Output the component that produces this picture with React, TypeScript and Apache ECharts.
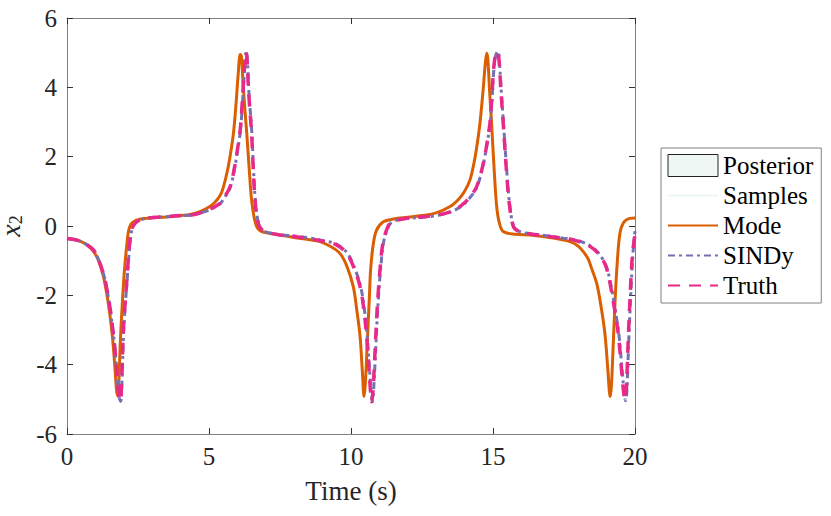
import React, { useEffect, useRef } from "react";
import * as echarts from "echarts";

const FONT = "'Liberation Serif', 'DejaVu Serif', serif";

const xTicks = [0, 5, 10, 15, 20];
const yTicks = [-6, -4, -2, 0, 2, 4, 6];

const seriesNames = ["Posterior", "Samples", "Mode", "SINDy", "Truth"];

const modeData: [number, number][] = [
  [0, -0.36], [0.25, -0.39], [0.5, -0.45], [0.72, -0.56], [0.93, -0.73], [1.1, -0.98], [1.28, -1.45], [1.4, -1.95],
  [1.5, -2.5], [1.6, -3.2], [1.68, -4.0], [1.74, -4.7], [1.78, -4.9], [1.82, -4.6],
  [1.88, -3.3], [1.95, -2.2], [2.02, -1.3], [2.1, -0.6], [2.18, -0.1], [2.3, 0.1],
  [2.6, 0.2], [3.5, 0.26], [4.0, 0.3], [4.33, 0.33], [4.7, 0.42], [5.0, 0.55],
  [5.2, 0.68], [5.39, 0.88], [5.5, 1.1], [5.65, 1.6], [5.76, 2.1], [5.86, 2.67],
  [5.95, 3.5], [6.03, 4.4], [6.1, 4.95], [6.14, 4.9], [6.2, 4.1], [6.27, 3.3],
  [6.33, 2.67], [6.42, 1.6], [6.5, 0.75], [6.6, 0.2], [6.7, -0.05], [6.85, -0.16],
  [7.5, -0.26], [8.0, -0.33], [8.5, -0.39], [8.91, -0.45], [9.3, -0.6], [9.61, -0.79],
  [9.85, -1.15], [10.08, -1.75], [10.2, -2.4], [10.32, -3.19], [10.4, -4.2], [10.46, -4.92],
  [10.5, -4.6], [10.55, -3.8], [10.61, -2.71], [10.65, -2.0], [10.69, -1.27], [10.78, -0.55],
  [10.9, -0.12], [11.14, 0.12], [11.5, 0.2], [12.0, 0.25], [12.5, 0.3], [13.0, 0.38],
  [13.49, 0.56], [13.8, 0.78], [14.0, 1.0], [14.19, 1.33], [14.35, 1.9], [14.45, 2.4],
  [14.54, 2.96], [14.65, 3.9], [14.73, 4.7], [14.78, 4.98], [14.82, 4.8], [14.88, 3.9],
  [14.95, 2.96], [15.05, 1.5], [15.13, 0.56], [15.22, 0.1], [15.36, -0.16], [15.8, -0.24],
  [16.3, -0.26], [17.0, -0.33], [17.71, -0.45], [18.0, -0.58], [18.18, -0.74], [18.35, -0.95],
  [18.47, -1.22], [18.65, -1.65], [18.8, -2.3], [18.94, -3.1], [19.04, -4.1], [19.1, -4.8],
  [19.13, -4.92], [19.17, -4.6], [19.22, -3.7], [19.3, -2.13], [19.38, -1.0], [19.47, -0.21],
  [19.6, 0.1], [19.82, 0.22], [20.0, 0.23],
];

const sindyData: [number, number][] = [
  [0, -0.36], [0.25, -0.39], [0.5, -0.45], [0.72, -0.55], [0.93, -0.7], [1.1, -0.95], [1.28, -1.37], [1.4, -1.8],
  [1.51, -2.33], [1.6, -2.9], [1.69, -3.55], [1.77, -4.35], [1.84, -4.95], [1.89, -5.06],
  [1.93, -4.6], [1.99, -3.1], [2.05, -2.3], [2.11, -1.65], [2.17, -0.95], [2.23, -0.4],
  [2.31, -0.05], [2.46, 0.12], [2.8, 0.22], [3.5, 0.27], [4.0, 0.3], [4.33, 0.31],
  [4.7, 0.38], [5.0, 0.46], [5.39, 0.64], [5.5, 0.76], [5.74, 1.1], [5.9, 1.65],
  [6.0, 2.15], [6.1, 2.7], [6.16, 3.3], [6.22, 4.1], [6.28, 4.8], [6.31, 5.04],
  [6.35, 4.8], [6.41, 3.8], [6.51, 2.67], [6.57, 1.6], [6.63, 0.75], [6.71, 0.2],
  [6.81, -0.05], [6.98, -0.16], [7.5, -0.25], [8.0, -0.29], [8.5, -0.34], [9.0, -0.42],
  [9.5, -0.53], [9.86, -0.77], [10.12, -1.2], [10.34, -1.75], [10.47, -2.4], [10.57, -3.19],
  [10.65, -4.1], [10.71, -4.8], [10.75, -5.07], [10.79, -4.8], [10.85, -3.9], [10.92, -2.71],
  [10.98, -1.9], [11.04, -1.27], [11.14, -0.5], [11.28, -0.1], [11.42, 0.1], [11.8, 0.2],
  [12.5, 0.25], [13.0, 0.3], [13.49, 0.4], [13.9, 0.58], [14.2, 0.83], [14.42, 1.1],
  [14.6, 1.57], [14.75, 2.17], [14.9, 2.96], [14.97, 3.7], [15.02, 4.4], [15.09, 4.9],
  [15.17, 5.04], [15.22, 4.8], [15.29, 3.9], [15.37, 2.96], [15.49, 1.52], [15.59, 0.6],
  [15.73, -0.02], [15.91, -0.15], [16.2, -0.21], [16.6, -0.25], [17.0, -0.29], [17.48, -0.35],
  [17.83, -0.39], [18.2, -0.48], [18.4, -0.56], [18.65, -0.72], [18.86, -0.95], [19.01, -1.22],
  [19.14, -1.65], [19.3, -2.4], [19.43, -3.1], [19.54, -4.1], [19.62, -4.8], [19.67, -5.04],
  [19.71, -4.8], [19.75, -4.0], [19.79, -3.1], [19.85, -2.0], [19.9, -1.17], [19.95, -0.55],
  [20.0, -0.15],
];

const truthData: [number, number][] = [
  [0, -0.36], [0.25, -0.39], [0.5, -0.45], [0.72, -0.55], [0.93, -0.69], [1.1, -0.95], [1.28, -1.37], [1.4, -1.8],
  [1.51, -2.33], [1.6, -2.9], [1.69, -3.58], [1.77, -4.4], [1.84, -5.0], [1.88, -5.05],
  [1.92, -4.6], [1.98, -3.1], [2.04, -2.3], [2.1, -1.65], [2.16, -0.95], [2.22, -0.4],
  [2.3, -0.05], [2.45, 0.12], [2.8, 0.22], [3.5, 0.27], [4.0, 0.3], [4.33, 0.31],
  [4.7, 0.38], [5.0, 0.47], [5.39, 0.65], [5.5, 0.78], [5.74, 1.13], [5.9, 1.7],
  [6.0, 2.2], [6.09, 2.7], [6.15, 3.3], [6.21, 4.1], [6.27, 4.8], [6.3, 5.03],
  [6.34, 4.8], [6.4, 3.8], [6.5, 2.67], [6.56, 1.6], [6.62, 0.75], [6.7, 0.2],
  [6.8, -0.05], [6.97, -0.16], [7.5, -0.26], [8.0, -0.3], [8.5, -0.36], [9.0, -0.44],
  [9.5, -0.55], [9.85, -0.79], [10.1, -1.2], [10.32, -1.75], [10.45, -2.4], [10.55, -3.19],
  [10.63, -4.1], [10.69, -4.8], [10.73, -5.07], [10.77, -4.8], [10.83, -3.9], [10.9, -2.71],
  [10.96, -1.9], [11.02, -1.27], [11.12, -0.5], [11.26, -0.1], [11.4, 0.1], [11.8, 0.2],
  [12.5, 0.26], [13.0, 0.31], [13.49, 0.41], [13.9, 0.6], [14.2, 0.85], [14.42, 1.13],
  [14.6, 1.6], [14.75, 2.2], [14.89, 2.96], [14.96, 3.7], [15.01, 4.4], [15.08, 4.9],
  [15.16, 5.03], [15.21, 4.8], [15.28, 3.9], [15.36, 2.96], [15.48, 1.52], [15.58, 0.6],
  [15.72, -0.02], [15.9, -0.15], [16.19, -0.21], [16.6, -0.26], [17.0, -0.3], [17.48, -0.36],
  [17.83, -0.4], [18.2, -0.5], [18.4, -0.58], [18.65, -0.74], [18.85, -0.95], [19.0, -1.22],
  [19.12, -1.65], [19.28, -2.4], [19.41, -3.1], [19.52, -4.1], [19.6, -4.8], [19.65, -5.02],
  [19.69, -4.8], [19.73, -4.0], [19.77, -3.1], [19.83, -2.0], [19.88, -1.17], [19.94, -0.6],
  [20.0, -0.25],
];

const COLORS = {
  posterior: "#eef7f3",
  samples: "#edf5f6",
  mode: "#D95F02",
  sindy: "#7570B3",
  truth: "#E7298A",
};

export default function App() {
  const ref = useRef<HTMLDivElement>(null);
  useEffect(() => {
    document.body.style.margin = "0";
    if (!ref.current) return;
    const chart = echarts.init(ref.current, undefined, { renderer: "svg" });
    const axisLineStyle = { color: "#808080", width: 1 };
    const tickStyle = { color: "#333333", width: 1 };
    const xBase = {
      type: "value" as const,
      min: xTicks[0],
      max: xTicks[xTicks.length - 1],
      interval: 5,
      splitLine: { show: false },
      axisLine: { show: true, onZero: false, lineStyle: axisLineStyle },
      axisTick: { show: true, inside: true, length: 6, lineStyle: tickStyle },
    };
    const yBase = {
      type: "value" as const,
      min: yTicks[0],
      max: yTicks[yTicks.length - 1],
      interval: 2,
      splitLine: { show: false },
      axisLine: { show: true, onZero: false, lineStyle: axisLineStyle },
      axisTick: { show: true, inside: true, length: 6, lineStyle: tickStyle },
    };
    const lineBase = {
      type: "line" as const,
      showSymbol: false,
      symbol: "none",
      smooth: 0.35,
      xAxisIndex: 0,
      yAxisIndex: 0,
    };
    chart.setOption({
      animation: false,
      grid: {
        left: 67,
        top: 18,
        width: 568,
        height: 416,
        containLabel: false,
        outerBoundsMode: "none",
      },
      xAxis: [
        {
          ...xBase,
          position: "bottom",
          axisLabel: { fontFamily: FONT, fontSize: 25, color: "#262626", margin: 10 },
          name: "Time (s)",
          nameLocation: "middle",
          nameGap: 43,
          nameTextStyle: { fontFamily: FONT, fontSize: 27, color: "#262626" },
        },
        { ...xBase, position: "top", axisLabel: { show: false } },
      ],
      yAxis: [
        {
          ...yBase,
          position: "left",
          axisLabel: { fontFamily: FONT, fontSize: 25, color: "#262626", margin: 10 },
          name: "{i|x}{s|2}",
          nameLocation: "middle",
          nameGap: 27,
          nameTextStyle: {
            fontFamily: FONT,
            color: "#262626",
            rich: {
              i: { fontFamily: FONT, fontStyle: "italic", fontSize: 28, color: "#262626", lineHeight: 30 },
              s: { fontFamily: FONT, fontSize: 18, color: "#262626", lineHeight: 14, verticalAlign: "bottom" },
            },
          },
        },
        { ...yBase, position: "right", axisLabel: { show: false } },
      ],
      legend: {
        orient: "vertical",
        left: 661,
        top: 148,
        padding: [5, 8, 5, 6],
        itemWidth: 50,
        itemHeight: 22,
        itemGap: 5,
        backgroundColor: "#ffffff",
        borderColor: "#808080",
        borderWidth: 1,
        borderRadius: 0,
        selectedMode: false,
        itemStyle: { opacity: 0 },
        textStyle: { fontFamily: FONT, fontSize: 25, color: "#000000", lineHeight: 25 },
        data: [
          {
            name: seriesNames[0],
            icon: "rect",
            itemStyle: { color: COLORS.posterior, borderColor: "#222222", borderWidth: 1, opacity: 1 },
          },
          { name: seriesNames[1] },
          { name: seriesNames[2] },
          { name: seriesNames[3] },
          { name: seriesNames[4] },
        ],
      },
      series: [
        {
          ...lineBase,
          name: seriesNames[0],
          data: [],
          color: COLORS.posterior,
          lineStyle: { width: 0 },
        },
        {
          ...lineBase,
          name: seriesNames[1],
          data: [],
          color: COLORS.samples,
          lineStyle: { width: 2, color: COLORS.samples },
        },
        {
          ...lineBase,
          name: seriesNames[2],
          data: modeData,
          color: COLORS.mode,
          lineStyle: { width: 3, color: COLORS.mode },
        },
        {
          ...lineBase,
          name: seriesNames[3],
          data: sindyData,
          color: COLORS.sindy,
          lineStyle: { width: 3, color: COLORS.sindy, type: [7, 4, 3, 4] },
        },
        {
          ...lineBase,
          name: seriesNames[4],
          data: truthData,
          color: COLORS.truth,
          lineStyle: { width: 3.5, color: COLORS.truth, type: [12, 9] },
        },
      ],
    });
    return () => chart.dispose();
  }, []);
  return <div ref={ref} style={{ width: 831, height: 516 }} />;
}
